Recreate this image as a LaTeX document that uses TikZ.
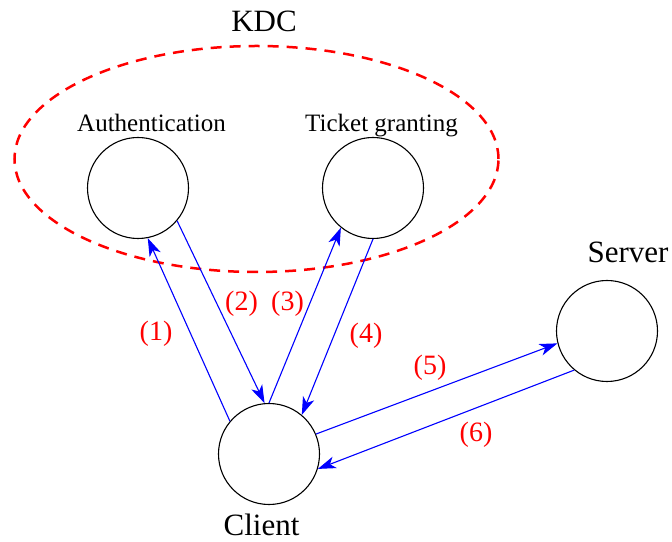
\documentclass[tikz,border=0pt]{standalone}
\usepackage{fontspec}
\setmainfont{Liberation Serif}
\newfontfamily\tnr{Liberation Serif}
\usetikzlibrary{arrows.meta}
\begin{document}
\begin{tikzpicture}[x=1pt,y=1pt,
  party/.style={draw=black,line width=1.1pt,circle,minimum size=101pt,inner sep=0pt},
  bigtext/.style={font=\tnr\fontsize{31}{36}\selectfont,anchor=base,inner sep=0pt},
  subtext/.style={font=\tnr\fontsize{25}{30}\selectfont,anchor=base,inner sep=0pt},
  msg/.style={draw=blue,line width=1.1pt,-{Stealth[length=18pt,width=12pt,inset=5pt]}},
  msglabel/.style={text=red,font=\tnr\fontsize{28}{32}\selectfont,inner sep=0pt}]
\useasboundingbox (0,0) rectangle (672,541);
% KDC region
\draw[red,line width=2.5pt,dash pattern=on 11pt off 8pt] (256.5,382) ellipse [x radius=242, y radius=113];
\node[bigtext] (kdc) at (264,509) {KDC};
% parties
\node[party] (auth) at (138,353) {};
\node[party] (tg) at (373,353) {};
\node[party] (server) at (607,210) {};
\node[party] (client) at (269,87) {};
\node[subtext] (authl) at (151.5,409) {Authentication};
\node[subtext] (tgl) at (381.5,409) {Ticket granting};
\node[bigtext] (serverl) at (628,278) {Server};
\node[bigtext] (clientl) at (261.5,5.5) {Client};
% messages
\draw[msg] (client.140.5) -- (auth.281);
\draw[msg] (auth.-40) -- (client.95.5);
\draw[msg] (client.90) -- (tg.231.5);
\draw[msg] (tg.270) -- (client.50);
\draw[msg] (client.23) -- (server.194.6);
\draw[msg] (server.230.6) -- (client.-17);
% labels
\node[msglabel] (l1) at (156,207) {(1)};
\node[msglabel] (l2) at (241.5,237) {(2)};
\node[msglabel] (l3) at (287.5,237) {(3)};
\node[msglabel] (l4) at (366,205) {(4)};
\node[msglabel] (l5) at (430,173) {(5)};
\node[msglabel] (l6) at (476,106) {(6)};
\end{tikzpicture}
\end{document}
